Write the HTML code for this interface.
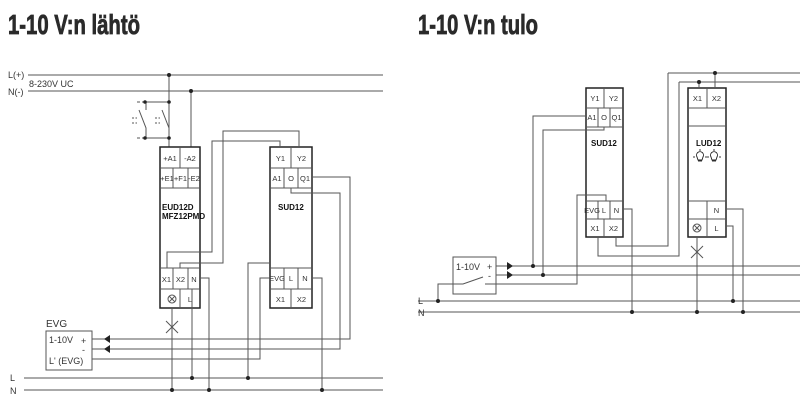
<!DOCTYPE html>
<html><head><meta charset="utf-8"><style>
body{margin:0;background:#fff}
svg{display:block}
text{font-family:"Liberation Sans",sans-serif;fill:#333}
.t{font-size:9px}
.c{font-size:7.5px;text-anchor:middle}
.b{font-weight:bold;font-size:8px;fill:#111}
</style></head><body>
<svg width="800" height="410" viewBox="0 0 800 410" xmlns="http://www.w3.org/2000/svg">
<text x="8" y="34" font-family="Liberation Sans Narrow, Liberation Sans, sans-serif" font-weight="bold" font-size="28" textLength="132" lengthAdjust="spacingAndGlyphs" stroke="#2a2a2a" stroke-width="0.8" style="fill:#2a2a2a">1-10 V:n lähtö</text>
<text x="418" y="34" font-family="Liberation Sans Narrow, Liberation Sans, sans-serif" font-weight="bold" font-size="28" textLength="120" lengthAdjust="spacingAndGlyphs" stroke="#2a2a2a" stroke-width="0.8" style="fill:#2a2a2a">1-10 V:n tulo</text>

<g stroke="#555" stroke-width="1" fill="none">
<line x1="28" y1="75" x2="383" y2="75"/>
<line x1="28" y1="91" x2="383" y2="91"/>
<line x1="24" y1="378" x2="383" y2="378"/>
<line x1="24" y1="390" x2="383" y2="390"/>
<line x1="169" y1="75" x2="169" y2="147"/>
<line x1="191" y1="91" x2="191" y2="147"/>
<line x1="145" y1="102" x2="169" y2="102"/>
<line x1="145" y1="138" x2="169" y2="138"/>
<line x1="137" y1="102" x2="145" y2="102" stroke-dasharray="3,2"/>
<line x1="137" y1="138" x2="145" y2="138" stroke-dasharray="3,2"/>
<polyline points="146,102 146,110"/>
<polyline points="139,110 146,128 146,138"/>
<polyline points="169,110 169,102"/>
<polyline points="162,110 169,128"/>
<line x1="132" y1="118" x2="137" y2="118" stroke-dasharray="2,1.5"/>
<line x1="132" y1="123" x2="137" y2="123" stroke-dasharray="2,1.5"/>
<line x1="155" y1="118" x2="160" y2="118" stroke-dasharray="2,1.5"/>
<line x1="155" y1="123" x2="160" y2="123" stroke-dasharray="2,1.5"/>
<rect x="160" y="147" width="40" height="161" stroke="#222" stroke-width="1.5"/>
<line x1="160" y1="168" x2="200" y2="168"/><line x1="160" y1="188" x2="200" y2="188"/>
<line x1="180" y1="147" x2="180" y2="168"/>
<line x1="173" y1="168" x2="173" y2="188"/><line x1="188" y1="168" x2="188" y2="188"/>
<line x1="160" y1="268" x2="200" y2="268"/><line x1="160" y1="289" x2="200" y2="289"/>
<line x1="173" y1="268" x2="173" y2="289"/><line x1="188" y1="268" x2="188" y2="289"/>
<line x1="180" y1="289" x2="180" y2="308"/>
<rect x="270" y="147" width="42" height="161" stroke="#222" stroke-width="1.5"/>
<line x1="270" y1="168" x2="312" y2="168"/><line x1="270" y1="188" x2="312" y2="188"/>
<line x1="291" y1="147" x2="291" y2="168"/>
<line x1="284" y1="168" x2="284" y2="188"/><line x1="298" y1="168" x2="298" y2="188"/>
<line x1="270" y1="268" x2="312" y2="268"/><line x1="270" y1="289" x2="312" y2="289"/>
<line x1="284" y1="268" x2="284" y2="289"/><line x1="298" y1="268" x2="298" y2="289"/>
<line x1="291" y1="289" x2="291" y2="308"/>
<polyline points="167,268 167,252 212,252 212,141 280,141 280,147"/>
<polyline points="180,268 180,263 223,263 223,131 299,131 299,147"/>
<polyline points="200,278 209,278 209,390"/>
<line x1="192" y1="289" x2="192" y2="378"/>
<line x1="172" y1="308" x2="172" y2="390"/>
<line x1="166" y1="321" x2="178" y2="333"/><line x1="178" y1="321" x2="166" y2="333"/>
<polyline points="312,177 350,177 350,339 92,339"/>
<polyline points="291,188 291,193 340,193 340,349 92,349"/>
<polyline points="92,359 260,359 260,278 270,278"/>
<polyline points="248,378 248,263 270,263"/>
<polyline points="312,278 322,278 322,390"/>
<rect x="46" y="331" width="46" height="39"/>

<line x1="668" y1="73" x2="800" y2="73"/>
<line x1="679" y1="82" x2="800" y2="82"/>
<line x1="418" y1="301" x2="800" y2="301"/>
<line x1="418" y1="312" x2="800" y2="312"/>
<line x1="496" y1="266" x2="800" y2="266"/>
<line x1="496" y1="275" x2="800" y2="275"/>
<rect x="586" y="88" width="37" height="149" stroke="#222" stroke-width="1.5"/>
<line x1="586" y1="108" x2="623" y2="108"/><line x1="586" y1="127" x2="623" y2="127"/>
<line x1="604" y1="88" x2="604" y2="108"/>
<line x1="598" y1="108" x2="598" y2="127"/><line x1="610" y1="108" x2="610" y2="127"/>
<line x1="586" y1="201" x2="623" y2="201"/><line x1="586" y1="219" x2="623" y2="219"/>
<line x1="598" y1="201" x2="598" y2="219"/><line x1="610" y1="201" x2="610" y2="219"/>
<line x1="604" y1="219" x2="604" y2="237"/>
<rect x="688" y="88" width="38" height="149" stroke="#222" stroke-width="1.5"/>
<line x1="688" y1="108" x2="726" y2="108"/><line x1="688" y1="126" x2="726" y2="126"/>
<line x1="707" y1="88" x2="707" y2="108"/>
<line x1="688" y1="201" x2="726" y2="201"/><line x1="688" y1="219" x2="726" y2="219"/>
<line x1="707" y1="201" x2="707" y2="237"/>
<polyline points="616,237 616,246 668,246 668,73"/>
<polyline points="598,237 598,256 679,256 679,82"/>
<line x1="715" y1="73" x2="715" y2="88"/>
<line x1="699" y1="82" x2="699" y2="88"/>
<polyline points="586,116 533,116 533,266"/>
<polyline points="604,127 604,130 543,130 543,275"/>
<polyline points="485,284 577,284 577,195 606,195 606,201"/>
<polyline points="438,301 438,284 463,284 483,277"/>
<rect x="453" y="257" width="43" height="37"/>
<polyline points="623,209 632,209 632,312"/>
<line x1="697" y1="237" x2="697" y2="312"/>
<line x1="691" y1="246" x2="703" y2="258"/><line x1="703" y1="246" x2="691" y2="258"/>
<polyline points="726,226 733,226 733,301"/>
<polyline points="726,209 743,209 743,312"/>
<circle cx="172" cy="299" r="4"/><line x1="169" y1="296" x2="175" y2="302"/><line x1="175" y1="296" x2="169" y2="302"/>
<circle cx="697" cy="228" r="4"/><line x1="694" y1="225" x2="700" y2="231"/><line x1="700" y1="225" x2="694" y2="231"/>
</g>
<g fill="#222">
<circle cx="169" cy="75" r="2"/><circle cx="191" cy="91" r="2"/>
<circle cx="145" cy="102" r="1.8"/><circle cx="169" cy="102" r="1.8"/>
<circle cx="145" cy="138" r="1.8"/><circle cx="169" cy="138" r="1.8"/>
<circle cx="192" cy="378" r="2"/><circle cx="248" cy="378" r="2"/>
<circle cx="172" cy="390" r="2"/><circle cx="209" cy="390" r="2"/><circle cx="322" cy="390" r="2"/>
<polygon points="104,339 110,335 110,343"/><polygon points="104,349 110,345 110,353"/>
<circle cx="715" cy="73" r="2"/><circle cx="699" cy="82" r="2"/>
<circle cx="533" cy="266" r="2"/><circle cx="543" cy="275" r="2"/>
<circle cx="438" cy="301" r="2"/><circle cx="733" cy="301" r="2"/>
<circle cx="632" cy="312" r="2"/><circle cx="697" cy="312" r="2"/><circle cx="743" cy="312" r="2"/>
<polygon points="513,266 507,262 507,270"/><polygon points="513,275 507,271 507,279"/>
</g>
<g stroke="#222" fill="none" stroke-width="0.9">
<path d="M697,157 a3.5,3.5 0 1 1 6,0 l-1,3 h-4 z"/><line x1="698" y1="161" x2="702" y2="161"/>
<line x1="695" y1="157" x2="693" y2="157"/><line x1="705" y1="157" x2="707" y2="157"/><line x1="700" y1="151" x2="700" y2="149"/>
<path d="M711,157 a3.5,3.5 0 1 1 6,0 l-1,3 h-4 z"/><line x1="712" y1="161" x2="716" y2="161"/>
<line x1="709" y1="157" x2="707" y2="157"/><line x1="719" y1="157" x2="721" y2="157"/><line x1="714" y1="151" x2="714" y2="149"/>
</g>
<text class="t" x="8" y="78">L(+)</text>
<text class="t" x="8" y="95">N(-)</text>
<text class="t" x="29" y="87">8-230V UC</text>
<text class="t" x="10" y="381">L</text><text class="t" x="10" y="394">N</text>
<text class="c" x="170" y="161">+A1</text><text class="c" x="190" y="161">-A2</text>
<text class="c" x="167" y="181" font-size="6.5">+E1</text><text class="c" x="180.5" y="181" font-size="6.5">+F1</text><text class="c" x="194" y="181" font-size="6.5">-E2</text>
<text class="b" x="162" y="210" font-size="6.5">EUD12D</text>
<text class="b" x="162" y="219" font-size="6.5">MFZ12PMD</text>
<text class="c" x="166.5" y="282">X1</text><text class="c" x="180.5" y="282">X2</text><text class="c" x="194" y="282">N</text>
<text class="c" x="190" y="302">L</text>
<text class="c" x="280.5" y="161">Y1</text><text class="c" x="301.5" y="161">Y2</text>
<text class="c" x="277" y="181" font-size="7">A1</text><text class="c" x="291" y="181" font-size="7">O</text><text class="c" x="305" y="181" font-size="7">Q1</text>
<text class="b" x="278" y="210">SUD12</text>
<text class="c" x="277" y="281" font-size="5.5">EVG</text><text class="c" x="291" y="281">L</text><text class="c" x="305" y="281">N</text>
<text class="c" x="280.5" y="302">X1</text><text class="c" x="301.5" y="302">X2</text>
<text x="46" y="327" font-size="10" style="fill:#333">EVG</text>
<text class="t" x="49" y="343">1-10V</text><text class="t" x="81" y="344">+</text><text class="t" x="82" y="353">-</text>
<text class="t" x="49" y="364">L' (EVG)</text>
<text class="c" x="595" y="101">Y1</text><text class="c" x="613.5" y="101">Y2</text>
<text class="c" x="592" y="120" font-size="6.5">A1</text><text class="c" x="604" y="120" font-size="6.5">O</text><text class="c" x="616.5" y="120" font-size="6.5">Q1</text>
<text class="b" x="591" y="146">SUD12</text>
<text class="c" x="592" y="213" font-size="5">EVG</text><text class="c" x="604" y="213" font-size="7">L</text><text class="c" x="616.5" y="213" font-size="7">N</text>
<text class="c" x="595" y="231">X1</text><text class="c" x="613.5" y="231">X2</text>
<text class="c" x="697.5" y="101">X1</text><text class="c" x="716.5" y="101">X2</text>
<text class="b" x="696" y="146">LUD12</text>
<text class="c" x="716.5" y="213">N</text><text class="c" x="716.5" y="231">L</text>
<text class="t" x="456" y="270">1-10V</text><text class="t" x="487" y="270">+</text><text class="t" x="488" y="279">-</text>
<text class="t" x="418" y="304">L</text><text class="t" x="418" y="316">N</text>
</svg>
</body></html>
